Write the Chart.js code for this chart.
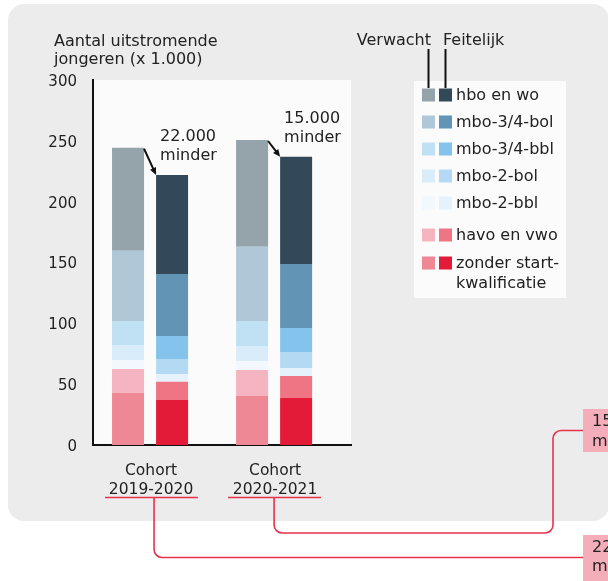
<!DOCTYPE html>
<html>
<head>
<meta charset="utf-8">
<script src="https://cdn.jsdelivr.net/npm/chart.js@4"></script>
<style>
  body { margin: 0; background: #fff; }
  canvas { display: block; }
</style>
</head>
<body>
<canvas id="myChart" width="608" height="581"></canvas>
<script>

// legend order, top to bottom
const categories = ['hbo en wo', 'mbo-3/4-bol', 'mbo-3/4-bbl', 'mbo-2-bol', 'mbo-2-bbl', 'havo en vwo', 'zonder start-|kwalificatie'];
const cohortLabels = [['Cohort', '2019-2020'], ['Cohort', '2020-2021']];

// x 1.000 jongeren, same order as categories
const verwacht1920 = [84.6, 57.8, 19.7, 12.3, 7.4, 19.5, 43.0];
const feitelijk1920 = [81.4, 50.9, 18.9, 12.3, 6.4, 15.0, 37.0];
const verwacht2021 = [87.7, 61.1, 20.5, 12.4, 7.4, 21.3, 40.3];
const feitelijk2021 = [88.1, 52.6, 19.8, 13.1, 6.6, 17.8, 38.9];

const yTicks = [0, 50, 100, 150, 200, 250, 300];
const diffLabels = [['22.000', 'minder'], ['15.000', 'minder']];

const verwachtColors = ['#95a3ab', '#afc7d7', '#c0e1f4', '#d9ecf9', '#f2f8fd', '#f4b5c0', '#ef8895'];
const feitelijkColors = ['#33495a', '#6294b5', '#84c4ec', '#b4daf3', '#e5f2fc', '#ef7585', '#e31b38'];

const FONT = '"DejaVu Sans", sans-serif';
const TXT = '#222';
const RED = '#e8324c';

// stacks are drawn bottom-up, so walk the categories backwards
const datasets = [];
for (let k = categories.length - 1; k >= 0; k--) {
    datasets.push({
        label: 'Verwacht ' + categories[k],
        stack: 'Verwacht',
        data: [{x: 0, y: verwacht1920[k]}, {x: 1, y: verwacht2021[k]}],
        backgroundColor: verwachtColors[k]
    });
}
for (let k = categories.length - 1; k >= 0; k--) {
    datasets.push({
        label: 'Feitelijk ' + categories[k],
        stack: 'Feitelijk',
        data: [{x: 0, y: feitelijk1920[k]}, {x: 1, y: feitelijk2021[k]}],
        backgroundColor: feitelijkColors[k]
    });
}

function roundRect(ctx, x, y, w, h, r) {
    ctx.beginPath();
    ctx.moveTo(x + r, y);
    ctx.arcTo(x + w, y, x + w, y + h, r);
    ctx.arcTo(x + w, y + h, x, y + h, r);
    ctx.arcTo(x, y + h, x, y, r);
    ctx.arcTo(x, y, x + w, y, r);
    ctx.closePath();
}

const backdrop = {
    id: 'backdrop',
    beforeDraw(chart) {
        const ctx = chart.ctx;
        const a = chart.chartArea;
        ctx.save();
        ctx.fillStyle = '#fff';
        ctx.fillRect(0, 0, chart.width, chart.height);
        ctx.fillStyle = '#ececec';
        roundRect(ctx, 8, 4, 601, 517, 16);
        ctx.fill();
        ctx.fillStyle = '#fbfbfb';
        ctx.fillRect(a.left, a.top, a.right - a.left, a.bottom - a.top);

        // title
        ctx.fillStyle = TXT;
        ctx.font = '16px ' + FONT;
        ctx.textBaseline = 'alphabetic';
        ctx.fillText('Aantal uitstromende', 54, 46);
        ctx.fillText('jongeren (x 1.000)', 54, 64);
        ctx.restore();
    }
};

const extras = {
    id: 'extras',
    afterDraw(chart) {
        const ctx = chart.ctx;
        ctx.save();

        // arrows from expected top to actual top
        const nCat = categories.length;
        const vMeta = chart.getDatasetMeta(nCat - 1);
        const fMeta = chart.getDatasetMeta(2 * nCat - 1);
        ctx.strokeStyle = '#111';
        ctx.fillStyle = '#111';
        ctx.lineWidth = 2;
        for (let i = 0; i < 2; i++) {
            const v = vMeta.data[i], f = fMeta.data[i];
            const x1 = v.x + v.width / 2, y1 = v.y + 1;
            const x2 = f.x - f.width / 2, y2 = f.y;
            const ang = Math.atan2(y2 - y1, x2 - x1);
            const hl = 8;
            ctx.beginPath();
            ctx.moveTo(x1, y1);
            ctx.lineTo(x2 - Math.cos(ang) * hl * 0.8, y2 - Math.sin(ang) * hl * 0.8);
            ctx.stroke();
            ctx.beginPath();
            ctx.moveTo(x2, y2);
            ctx.lineTo(x2 - hl * Math.cos(ang - 0.42), y2 - hl * Math.sin(ang - 0.42));
            ctx.lineTo(x2 - hl * Math.cos(ang + 0.42), y2 - hl * Math.sin(ang + 0.42));
            ctx.closePath();
            ctx.fill();

            ctx.fillStyle = TXT;
            ctx.font = '16px ' + FONT;
            ctx.fillText(diffLabels[i][0], x2 + 4, f.y - 34);
            ctx.fillText(diffLabels[i][1], x2 + 4, f.y - 15);
            ctx.fillStyle = '#111';
        }

        // legend
        ctx.fillStyle = '#fbfbfb';
        ctx.fillRect(414, 81, 152, 217);
        ctx.fillStyle = TXT;
        ctx.font = '16px ' + FONT;
        ctx.textBaseline = 'alphabetic';
        ctx.textAlign = 'right';
        ctx.fillText('Verwacht', 431, 45);
        ctx.textAlign = 'left';
        ctx.fillText('Feitelijk', 443, 45);
        ctx.strokeStyle = '#111';
        ctx.lineWidth = 2;
        ctx.beginPath();
        ctx.moveTo(428.5, 49); ctx.lineTo(428.5, 88);
        ctx.moveTo(445.5, 49); ctx.lineTo(445.5, 88);
        ctx.stroke();

        const rowY = [95, 122, 149, 176, 203, 235, 263];
        ctx.textBaseline = 'middle';
        categories.forEach((c, k) => {
            ctx.fillStyle = verwachtColors[k];
            ctx.fillRect(422, rowY[k] - 6.5, 13, 13);
            ctx.fillStyle = feitelijkColors[k];
            ctx.fillRect(439, rowY[k] - 6.5, 13, 13);
            ctx.fillStyle = TXT;
            c.split('|').forEach((line, j) => ctx.fillText(line, 456, rowY[k] + 1 + j * 20));
        });

        // red connectors to the side notes
        const xs = chart.scales.x;
        const c1 = xs.getPixelForValue(0), c2 = xs.getPixelForValue(1);
        ctx.strokeStyle = RED;
        ctx.lineWidth = 1.6;
        ctx.beginPath();
        ctx.moveTo(105, 497.5); ctx.lineTo(198, 497.5);
        ctx.moveTo(228, 497.5); ctx.lineTo(321, 497.5);
        ctx.stroke();
        ctx.beginPath();
        ctx.moveTo(c1 + 4, 497.5);
        ctx.lineTo(c1 + 4, 549);
        ctx.arcTo(c1 + 4, 557.5, c1 + 12, 557.5, 8);
        ctx.lineTo(584, 557.5);
        ctx.stroke();
        ctx.beginPath();
        ctx.moveTo(c2, 497.5);
        ctx.lineTo(c2, 525);
        ctx.arcTo(c2, 533, c2 + 8, 533, 8);
        ctx.lineTo(545, 533);
        ctx.arcTo(553, 533, 553, 525, 8);
        ctx.lineTo(553, 438);
        ctx.arcTo(553, 430.5, 561, 430.5, 8);
        ctx.lineTo(584, 430.5);
        ctx.stroke();

        // side notes (cut off by the page edge)
        ctx.fillStyle = '#f4aeb9';
        ctx.fillRect(583, 409, 40, 43);
        ctx.fillRect(583, 535, 40, 46);
        ctx.fillStyle = TXT;
        ctx.textBaseline = 'alphabetic';
        ctx.fillText(diffLabels[1][0], 592, 426);
        ctx.fillText(diffLabels[1][1], 592, 446);
        ctx.fillText(diffLabels[0][0], 592, 552);
        ctx.fillText(diffLabels[0][1], 592, 571);
        ctx.restore();
    }
};

const myChart = new Chart(document.getElementById('myChart'), {
    type: 'bar',
    data: { datasets: datasets },
    options: {
        responsive: false,
        animation: false,
        barPercentage: 0.727,
        categoryPercentage: 0.71,
        layout: { padding: { top: 80, right: 257, left: 0, bottom: 0 } },
        plugins: {
            legend: { display: false },
            tooltip: { enabled: false }
        },
        scales: {
            x: {
                type: 'linear',
                min: -0.46,
                max: 1.62,
                offset: false,
                grid: { display: false, offset: false },
                border: { color: '#111', width: 2 },
                afterBuildTicks: s => { s.ticks = cohortLabels.map((l, i) => ({ value: i })); },
                afterFit: s => { s.height = 136; },
                ticks: {
                    callback: v => cohortLabels[v],
                    color: TXT,
                    padding: 8,
                    labelOffset: 1,
                    maxRotation: 0,
                    font: { family: FONT, size: 15.5, lineHeight: 1.23 }
                }
            },
            y: {
                stacked: true,
                min: 0,
                max: 300,
                grid: { display: false },
                border: { color: '#111', width: 2 },
                afterBuildTicks: s => { s.ticks = yTicks.map(v => ({ value: v })); },
                afterFit: s => { s.width = 93; },
                ticks: {
                    color: TXT,
                    padding: 8,
                    labelOffset: 2,
                    font: { family: FONT, size: 15 }
                }
            }
        }
    },
    plugins: [backdrop, extras]
});
</script>
</body>
</html>
